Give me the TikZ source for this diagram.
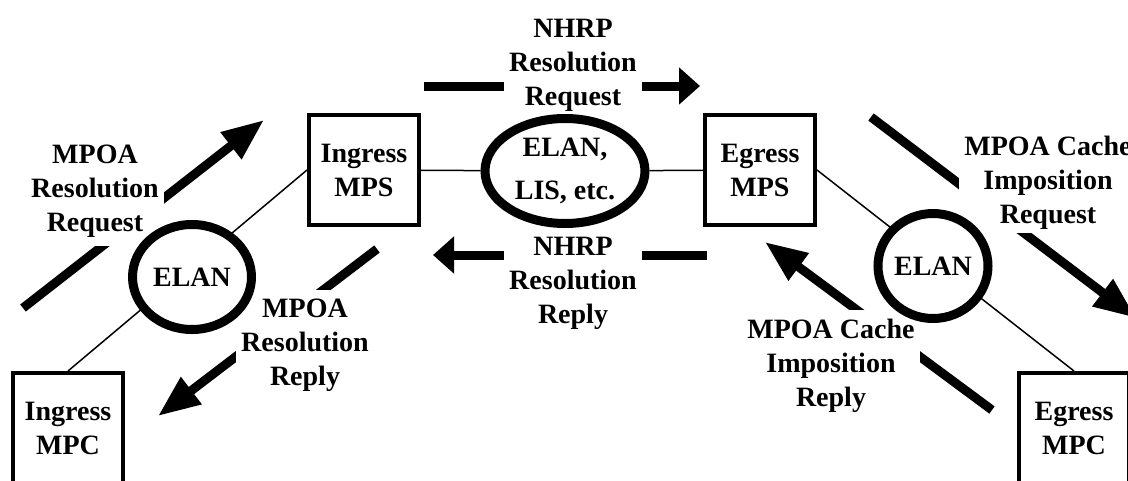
\documentclass[tikz,border=0pt]{standalone}
\usepackage{fontspec}
\setmainfont{Liberation Serif}
\usepackage{tikz}
\usetikzlibrary{arrows.meta, shapes.geometric, backgrounds}

\begin{document}
\begin{tikzpicture}[x=1pt, y=-1pt,
				font=\fontsize{28}{34}\selectfont\bfseries,
				box/.style={draw, fill=white, line width=4pt, minimum size=110pt, inner sep=0pt, align=center},
				lan/.style={draw, fill=white, ellipse, line width=9pt, minimum height=105pt, inner sep=0pt, align=center},
				msg/.style={fill=white, align=center, inner xsep=5pt, inner ysep=9pt},
				harrow/.style={line width=9pt, -{Triangle[length=21pt, width=36pt]}},
				darrow/.style={line width=9pt, -{Triangle[length=42pt, width=32pt]}},
				link/.style={line width=1.5pt}]
				\useasboundingbox (0,0) rectangle (1128,480);
				\coordinate (rqS) at (23,308);
				\coordinate (rqE) at (264,120);
				\coordinate (rpS) at (377,249);
				\coordinate (rpE) at (158,416);
				\coordinate (nqS) at (424,86);
				\coordinate (nqE) at (700,86);
				\coordinate (npS) at (707,255);
				\coordinate (npE) at (433,255);
				\coordinate (cqS) at (871,117);
				\coordinate (cqE) at (1136,318);
				\coordinate (cpS) at (992,410);
				\coordinate (cpE) at (765,242);
				\draw[darrow] (rqS) -- (rqE);
				\draw[darrow] (rpS) -- (rpE);
				\draw[harrow] (nqS) -- (nqE);
				\draw[harrow] (npS) -- (npE);
				\draw[darrow] (cqS) -- (cqE);
				\draw[darrow] (cpS) -- (cpE);
				\node at (95,191) (resReq) [msg] {MPOA\\Resolution\\Request};
				\node at (305,345) (resRep) [msg] {MPOA\\Resolution\\Reply};
				\node at (573,65) (nhrpReq) [msg] {NHRP\\Resolution\\Request};
				\node at (573,283) (nhrpRep) [msg] {NHRP\\Resolution\\Reply};
				\node at (1048,183) (cacheReq) [msg, inner ysep=3pt] {MPOA Cache\\Imposition\\Request};
				\node at (831,365.5) (cacheRep) [msg] {MPOA Cache\\Imposition\\Reply};
				\node at (364,170) (mpsIn) [box] {Ingress\\MPS};
				\node at (760,170) (mpsEg) [box] {Egress\\MPS};
				\node at (68,428) (mpcIn) [box] {Ingress\\MPC};
				\node at (1074,428) (mpcEg) [box] {Egress\\MPC};
				\node at (565,171) (lis) [lan, minimum width=160pt] {ELAN,\\[9pt]LIS, etc.};
				\node at (192,277) (elanIn) [lan, minimum width=119pt] {ELAN};
				\node at (933,266) (elanEg) [lan, minimum width=110pt] {ELAN};
				\begin{scope}[on background layer]
				\draw[link] (mpsIn.west) -- (mpcIn.north);
				\draw[link] (mpsIn) -- (lis);
				\draw[link] (lis) -- (mpsEg);
				\draw[link] (mpsEg.east) -- (mpcEg.north);
				\end{scope}
			\end{tikzpicture}
\end{document}
